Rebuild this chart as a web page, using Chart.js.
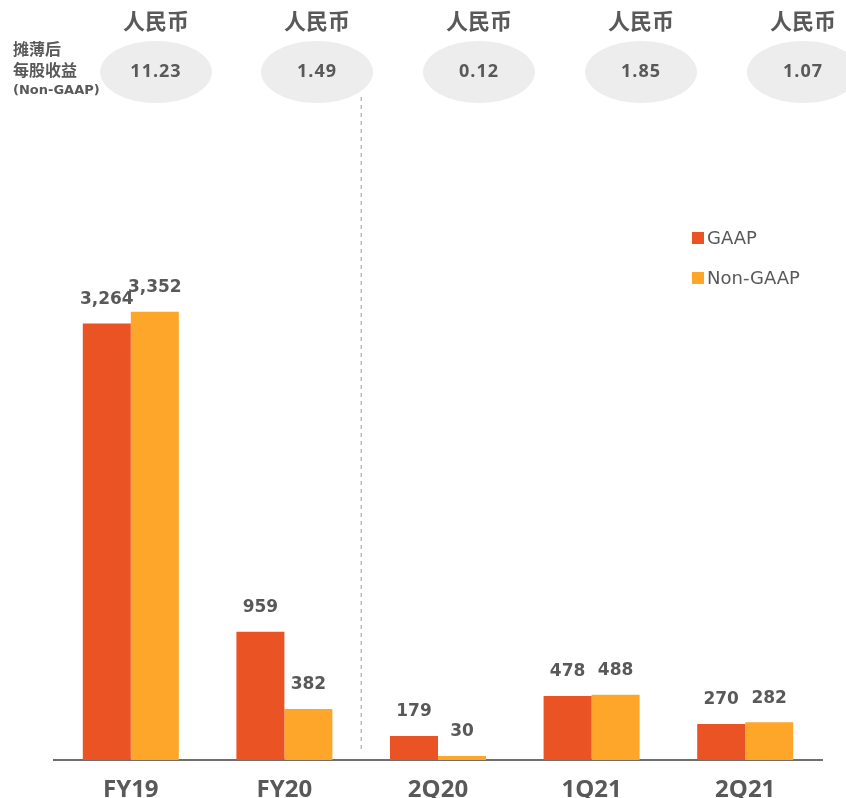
<!DOCTYPE html>
<html><head><meta charset="utf-8">
<script src="https://cdn.jsdelivr.net/npm/chart.js@4.4.0/dist/chart.umd.min.js"></script>
<style>
html,body{margin:0;padding:0;background:#fff;overflow:hidden;}
#wrap{position:relative;width:846px;height:798px;}
</style></head>
<body><div id="wrap"><canvas id="c"></canvas></div>
<script>
const categories = ['FY19','FY20','2Q20','1Q21','2Q21'];
const gaap = [3264, 959, 179, 478, 270];
const nonGaap = [3352, 382, 30, 488, 282];
const epsValues = ['11.23','1.49','0.12','1.85','1.07'];
const currencyLabel = '人民币';
const epsTitle = ['摊薄后','每股收益','(Non-GAAP)'];
const seriesNames = ['GAAP','Non-GAAP'];

const GRAY = '#595959';
const LATIN = '"Open Sans", "Noto Sans", sans-serif';
const WIDE = '"DejaVu Sans", sans-serif';
const CJK = '"Noto Sans CJK SC", "Noto Sans", sans-serif';

const overlay = {
  id:'overlay',
  afterDatasetsDraw(chart){
    const ctx = chart.ctx;
    ctx.save();
    // value labels
    ctx.fillStyle = GRAY;
    ctx.font = 'bold 17px ' + WIDE;
    ctx.textAlign = 'center';
    ctx.textBaseline = 'middle';
    chart.data.datasets.forEach((ds, di) => {
      const meta = chart.getDatasetMeta(di);
      meta.data.forEach((bar, i) => {
        ctx.fillText(ds.data[i].toLocaleString('en-US'), bar.x, bar.y - 24);
      });
    });
    // dashed separator between FY20 and 2Q20
    const xs = chart.scales.x;
    const sx = (xs.getPixelForValue(1) + xs.getPixelForValue(2)) / 2;
    ctx.strokeStyle = '#9a9a9a';
    ctx.lineWidth = 1;
    ctx.setLineDash([4,4]);
    ctx.beginPath(); ctx.moveTo(sx, 97); ctx.lineTo(sx, 750); ctx.stroke();
    ctx.setLineDash([]);
    // legend
    const ly = [238, 278];
    chart.data.datasets.forEach((ds, di) => {
      ctx.fillStyle = ds.backgroundColor;
      ctx.fillRect(692, ly[di] - 6, 12, 12);
      ctx.fillStyle = GRAY;
      ctx.font = '18px ' + WIDE;
      ctx.textAlign = 'left';
      ctx.fillText(ds.label, 707, ly[di] + 1);
    });
    // EPS ellipses
    const ex = [156, 317, 479, 641, 803];
    epsValues.forEach((v, i) => {
      ctx.fillStyle = '#ededed';
      ctx.beginPath();
      ctx.ellipse(ex[i], 72, 56, 31, 0, 0, Math.PI * 2);
      ctx.fill();
      ctx.fillStyle = GRAY;
      ctx.textAlign = 'center';
      ctx.font = 'bold 18px ' + LATIN;
      ctx.letterSpacing = '1px';
      ctx.fillText(v, ex[i], 72);
      ctx.letterSpacing = '0px';
      ctx.font = 'bold 22px ' + CJK;
      ctx.fillText(currencyLabel, ex[i], 21);
    });
    // left title
    ctx.textAlign = 'left';
    ctx.font = 'bold 16px ' + CJK;
    ctx.fillText(epsTitle[0], 13, 49);
    ctx.fillText(epsTitle[1], 13, 70);
    ctx.font = 'bold 13px ' + WIDE;
    ctx.fillText(epsTitle[2], 13, 91);
    ctx.restore();
  }
};

new Chart(document.getElementById('c'), {
  type:'bar',
  data:{
    labels: categories,
    datasets:[
      {label: seriesNames[0], data: gaap, backgroundColor:'#EA5323'},
      {label: seriesNames[1], data: nonGaap, backgroundColor:'#FDA629'}
    ]
  },
  options:{
    responsive:true, maintainAspectRatio:false, animation:false,
    devicePixelRatio:1,
    layout:{padding:{left:54, right:24, top:225, bottom:0}},
    categoryPercentage:0.625, barPercentage:1,
    plugins:{legend:{display:false}, tooltip:{enabled:false}},
    scales:{
      x:{
        grid:{display:false, drawTicks:false},
        border:{display:true, color:'#6f6f6f', width:2},
        ticks:{color:GRAY, font:{family:LATIN, size:24, weight:'bold'}, padding:16},
        afterFit(s){ s.height = 38; }
      },
      y:{display:false, min:0, max:4000}
    }
  },
  plugins:[overlay]
});
</script></body></html>
